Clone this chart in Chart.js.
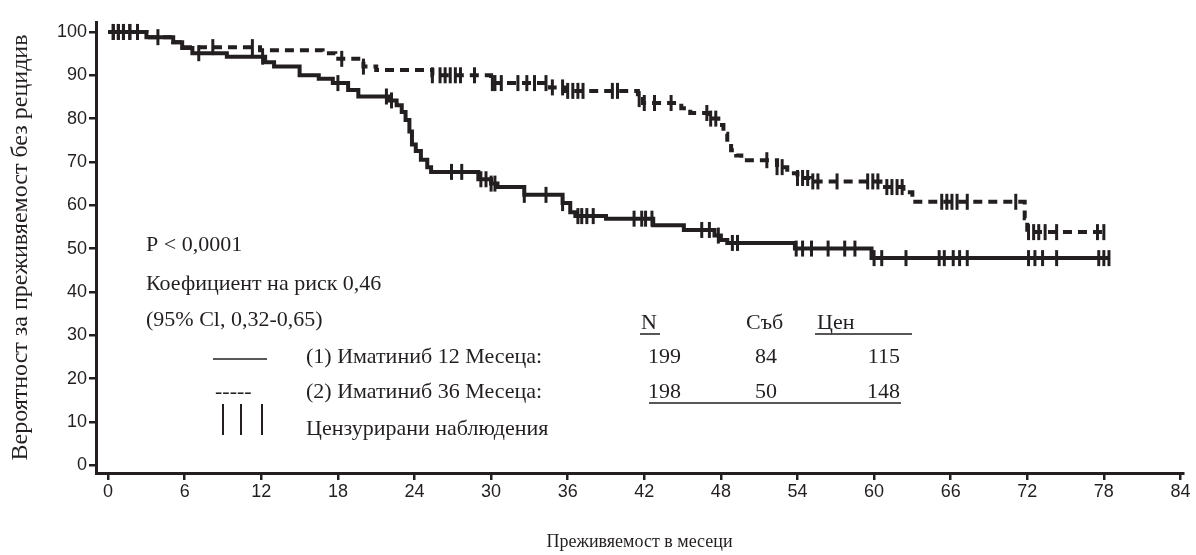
<!DOCTYPE html>
<html>
<head>
<meta charset="utf-8">
<script src="https://cdn.jsdelivr.net/npm/chart.js@4"></script>
<style>
  html, body { margin: 0; padding: 0; background: #fff; }
  #wrap { width: 1196px; height: 555px; }
</style>
</head>
<body>
<div id="wrap"><canvas id="kmChart" width="1196" height="555"></canvas></div>
<script>
// --- data (months, % relapse-free) ---
const xTicks = [0, 6, 12, 18, 24, 30, 36, 42, 48, 54, 60, 66, 72, 78, 84];
const yTicks = [0, 10, 20, 30, 40, 50, 60, 70, 80, 90, 100];

// (1) Imatinib 12 months - solid
const arm1Times = [0, 3.0, 5.1, 5.8, 6.6, 9.3, 12.3, 13.0, 15.0, 16.5, 17.6, 18.8, 19.6, 22.0, 22.6, 23.0, 23.3, 23.6, 23.8, 24.1, 24.5, 25.0, 25.3, 29.0, 30.0, 30.5, 32.6, 35.6, 36.2, 36.6, 39.0, 42.7, 45.1, 47.5, 48.0, 48.5, 53.8, 59.8];
const arm1Surv  = [100, 98.8, 97.6, 96.3, 95.1, 94.3, 93.0, 92.0, 90.0, 89.2, 88.2, 86.6, 85.1, 84.2, 83.1, 81.5, 79.7, 77.0, 74.0, 72.5, 70.5, 68.8, 67.7, 66.0, 65.0, 64.2, 62.4, 60.5, 58.4, 57.5, 56.9, 55.4, 54.3, 53.0, 52.0, 51.3, 50.0, 47.8];
const arm1End = 78.4;
const arm1Censored = [0.4, 0.8, 1.2, 1.7, 2.3, 3.9, 7.1, 12.1, 18.0, 21.8, 22.2, 26.9, 27.7, 29.2, 29.6, 30.0, 30.3, 32.6, 34.3, 35.6, 36.8, 37.1, 37.5, 38.0, 41.2, 41.8, 42.1, 42.6, 46.5, 47.1, 47.8, 48.9, 49.3, 53.9, 54.4, 55.1, 56.4, 57.7, 58.5, 60.0, 60.6, 62.5, 65.1, 65.5, 66.2, 66.7, 67.3, 72.1, 72.6, 73.2, 74.3, 77.6, 78.0, 78.4];

// (2) Imatinib 36 months - dashed
const arm2Times = [0, 3.0, 5.1, 6.0, 11.9, 16.8, 17.8, 20.0, 21.0, 25.4, 30.0, 34.6, 35.8, 41.5, 41.9, 44.9, 45.6, 47.0, 47.8, 48.2, 48.5, 48.8, 49.2, 49.6, 52.4, 53.2, 54.0, 55.0, 60.5, 62.3, 63.0, 71.8, 72.0];
const arm2Surv  = [100, 98.8, 97.6, 96.5, 95.8, 95.1, 93.8, 92.0, 91.2, 90.0, 88.2, 87.2, 86.4, 84.5, 83.6, 82.4, 81.3, 80.0, 78.5, 76.5, 74.5, 72.7, 71.5, 70.4, 68.8, 67.4, 66.3, 65.5, 64.2, 63.0, 60.8, 57.0, 53.8];
const arm2End = 78.0;
const arm2Censored = [0.4, 0.8, 1.2, 1.7, 2.3, 8.2, 11.3, 18.3, 20.0, 25.4, 26.0, 26.4, 26.8, 27.2, 27.6, 28.7, 30.1, 30.3, 30.8, 32.1, 32.8, 33.4, 34.3, 34.8, 35.6, 36.0, 36.4, 36.8, 37.2, 39.5, 39.9, 41.6, 42.0, 42.8, 44.1, 46.9, 47.2, 47.6, 51.6, 52.4, 52.8, 54.0, 54.4, 54.8, 55.2, 55.6, 57.1, 59.5, 59.9, 60.3, 61.0, 61.4, 61.8, 62.2, 65.3, 65.7, 66.1, 66.5, 67.3, 71.1, 72.1, 72.5, 72.9, 73.4, 74.3, 77.5, 78.0];

const statLines = ['P < 0,0001', 'Коефициент на риск 0,46', '(95% Cl, 0,32-0,65)'];
const tableHeader = ['N', 'Съб', 'Цен'];
const arm1Label = '(1) Иматиниб 12 Месеца:';
const arm2Label = '(2) Иматиниб 36 Месеца:';
const censLabel = 'Цензурирани наблюдения';
const arm1Counts = ['199', '84', '115'];
const arm2Counts = ['198', '50', '148'];

const INK = '#231f20';
const SERIF = "'Liberation Serif', 'Times New Roman', serif";
const SANS = "'Liberation Sans', Arial, sans-serif";

// KM step curve: horizontal, then drop at each event time
function stepPoints(times, surv, endTime) {
    const pts = [{ x: times[0], y: surv[0] }];
    for (let i = 1; i < times.length; i++) {
        pts.push({ x: times[i], y: surv[i - 1] });
        pts.push({ x: times[i], y: surv[i] });
    }
    pts.push({ x: endTime, y: surv[surv.length - 1] });
    return pts;
}

function survAt(times, surv, t) {
    let s = surv[0];
    for (let i = 0; i < times.length; i++) {
        if (times[i] <= t) s = surv[i];
    }
    return s;
}

function censorPoints(censored, times, surv) {
    return censored.map(t => ({ x: t, y: survAt(times, surv, t) }));
}

// legend / stats text drawn over the plot
const notesPlugin = {
    id: 'notes',
    afterDraw(chart) {
        const ctx = chart.ctx;
        ctx.save();
        ctx.fillStyle = INK;
        ctx.strokeStyle = INK;
        ctx.font = '22px ' + SERIF;
        ctx.textBaseline = 'middle';
        ctx.textAlign = 'left';

        ctx.fillText(statLines[0], 146, 245);
        ctx.fillText(statLines[1], 146, 284);
        ctx.fillText(statLines[2], 146, 320);

        // table header
        ctx.fillText(tableHeader[0], 641, 323);
        ctx.fillText(tableHeader[1], 746, 323);
        ctx.fillText(tableHeader[2], 817, 323);
        ctx.lineWidth = 1.3;
        ctx.beginPath();
        ctx.moveTo(640, 334); ctx.lineTo(660, 334);
        ctx.moveTo(815, 334); ctx.lineTo(912, 334);
        ctx.stroke();

        // legend rows
        ctx.beginPath();
        ctx.moveTo(213, 359); ctx.lineTo(267, 359);
        ctx.stroke();
        ctx.fillText('-----', 215, 392);
        ctx.lineWidth = 2;
        ctx.beginPath();
        [223, 241, 262].forEach(x => { ctx.moveTo(x, 404); ctx.lineTo(x, 435); });
        ctx.stroke();

        ctx.fillText(arm1Label, 306, 357);
        ctx.fillText(arm2Label, 306, 392);
        ctx.fillText(censLabel, 306, 429);

        ctx.textAlign = 'right';
        const colRight = [681, 777, 900];
        arm1Counts.forEach((v, i) => ctx.fillText(v, colRight[i], 357));
        arm2Counts.forEach((v, i) => ctx.fillText(v, colRight[i], 392));
        ctx.lineWidth = 1.3;
        ctx.beginPath();
        ctx.moveTo(649, 403); ctx.lineTo(901, 403);
        ctx.stroke();
        ctx.restore();
    }
};

const ctx = document.getElementById('kmChart');
new Chart(ctx, {
    type: 'line',
    data: {
        datasets: [{
            label: 'Иматиниб 12 Месеца',
            data: stepPoints(arm1Times, arm1Surv, arm1End),
            borderColor: INK,
            borderWidth: 4,
            pointRadius: 0,
            borderJoinStyle: 'miter',
            tension: 0,
            fill: false
        }, {
            label: 'Иматиниб 36 Месеца',
            data: stepPoints(arm2Times, arm2Surv, arm2End),
            borderColor: INK,
            borderWidth: 4,
            borderDash: [9, 6],
            pointRadius: 0,
            borderJoinStyle: 'miter',
            tension: 0,
            fill: false
        }, {
            type: 'scatter',
            label: 'cens1',
            data: censorPoints(arm1Censored, arm1Times, arm1Surv),
            pointStyle: 'line',
            rotation: 90,
            radius: 8,
            borderWidth: 3,
            borderColor: INK,
            backgroundColor: INK,
            showLine: false
        }, {
            type: 'scatter',
            label: 'cens2',
            data: censorPoints(arm2Censored, arm2Times, arm2Surv),
            pointStyle: 'line',
            rotation: 90,
            radius: 8,
            borderWidth: 3,
            borderColor: INK,
            backgroundColor: INK,
            showLine: false
        }]
    },
    options: {
        responsive: false,
        animation: false,
        devicePixelRatio: 1,
        layout: { padding: { left: 0, top: 22, right: 13, bottom: 0 } },
        plugins: {
            legend: { display: false },
            tooltip: { enabled: false }
        },
        scales: {
            x: {
                type: 'linear',
                min: -0.95,
                max: 84.2,
                afterBuildTicks: (scale) => { scale.ticks = xTicks.map(v => ({ value: v })); },
                afterFit: (scale) => {
                    scale.height = 82;
                    scale.paddingLeft = 0; scale.paddingRight = 0;
                },
                ticks: {
                    color: INK,
                    font: { family: SANS, size: 18 },
                    padding: 1,
                    maxRotation: 0,
                    autoSkip: false
                },
                grid: { drawOnChartArea: false, drawTicks: true, tickLength: 7, lineWidth: 2.5, color: INK },
                border: { display: true, width: 3, color: INK },
                title: {
                    display: true,
                    text: 'Преживяемост в месеци',
                    color: INK,
                    font: { family: SERIF, size: 18 },
                    padding: { top: 0, bottom: 2 }
                }
            },
            y: {
                type: 'linear',
                min: -1.8,
                max: 102.3,
                afterBuildTicks: (scale) => { scale.ticks = yTicks.map(v => ({ value: v })); },
                afterFit: (scale) => {
                    scale.width = 96;
                    scale.paddingTop = 0; scale.paddingBottom = 0;
                },
                ticks: {
                    color: INK,
                    font: { family: SANS, size: 18 },
                    padding: 2
                },
                grid: { drawOnChartArea: false, drawTicks: true, tickLength: 7, lineWidth: 2.5, color: INK },
                border: { display: true, width: 3, color: INK },
                title: {
                    display: true,
                    text: 'Вероятност за преживяемост без рецидив',
                    color: INK,
                    font: { family: SERIF, size: 24 },
                    padding: { top: 6, bottom: 0 }
                }
            }
        }
    },
    plugins: [notesPlugin]
});
</script>
</body>
</html>
